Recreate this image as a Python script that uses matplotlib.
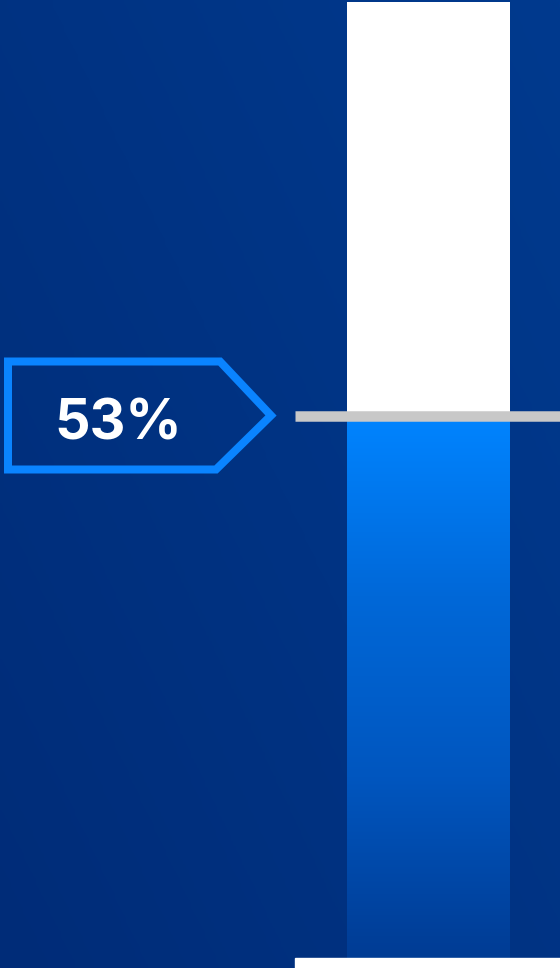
import numpy as np
import matplotlib
matplotlib.use("Agg")
import matplotlib.pyplot as plt
from matplotlib.colors import LinearSegmentedColormap
from matplotlib.patches import Polygon
import matplotlib.transforms as mtransforms

# ---- data ----
categories = ["Share"]
values = [53]          # percent filled
total = [100]          # full bar
label_text = ["53%"]

W, H, DPI = 560, 968, 100
fig = plt.figure(figsize=(W / DPI, H / DPI), dpi=DPI)

# background gradient
bg = fig.add_axes([0, 0, 1, 1])
bg.set_axis_off()
yy, xx = np.mgrid[0:1:200j, 0:1:200j]
bgcmap = LinearSegmentedColormap.from_list("bg", ["#002c78", "#003a8e"])
field = 0.55 * xx + 0.45 * yy  # lighter toward top right
bg.imshow(field, cmap=bgcmap, extent=[0, 1, 0, 1], origin="lower",
          aspect="auto", interpolation="bilinear", zorder=0)
bg.set_xlim(0, 1)
bg.set_ylim(0, 1)

# baseline white strip at bottom
fig.patches.append(plt.Rectangle((295 / W, 0), (W - 295) / W, 10 / H,
                                 transform=fig.transFigure, color="white",
                                 zorder=1))

# main axes: x from 295 to 560 px, y from 958 to 2 px
ax = fig.add_axes([295 / W, 10 / H, (W - 295) / W, (958 - 2) / H])
ax.set_axis_off()
ax.patch.set_alpha(0)
ymax = values[0] * (958 - 2) / (958 - 415.5)
xlim = (-0.503, 0.497)
ax.set_xlim(*xlim)
ax.set_ylim(0, ymax)

bw = 0.615
x0 = np.arange(len(categories))
# remaining (white) part
ax.bar(x0, np.array(total) - np.array(values), bottom=values, width=bw,
       color="white", zorder=2)
# filled part with gradient
bars = ax.bar(x0, values, width=bw, color="none", zorder=3)
gcmap = LinearSegmentedColormap.from_list(
    "fill", ["#003c94", "#0056bf", "#0068d8", "#0084ff"])
for b in bars:
    grad = np.linspace(0, 1, 256).reshape(-1, 1)
    im = ax.imshow(grad, cmap=gcmap, origin="lower", aspect="auto",
                   extent=[b.get_x(), b.get_x() + b.get_width(), 0, b.get_height()],
                   zorder=3)
    im.set_clip_path(b)

# marker line at value
ax.axhline(values[0], color="#c8c8c8", lw=10.5 * 72 / DPI,
           solid_capstyle="butt", zorder=4)
ax.set_xlim(*xlim)
ax.set_ylim(0, ymax)

# label arrow box anchored at the value's height
ydisp = ax.transData.transform((0, values[0]))[1]
pts = np.array([[8, 54], [220, 54], [271, 0], [216, -54], [8, -54]], float)
pts[:, 1] += ydisp
poly = Polygon(pts, closed=True, fill=False, edgecolor="#0a84ff",
               lw=8 * 72 / DPI, joinstyle="miter",
               transform=mtransforms.IdentityTransform(), zorder=5)
fig.patches.append(poly)

fig.text(118 / W, (ydisp - 9) / H, label_text[0], color="white",
         fontsize=40, fontweight="bold", family=["Inter", "DejaVu Sans"],
         ha="center", va="center", zorder=6)

fig.savefig("out.png", dpi=DPI)
